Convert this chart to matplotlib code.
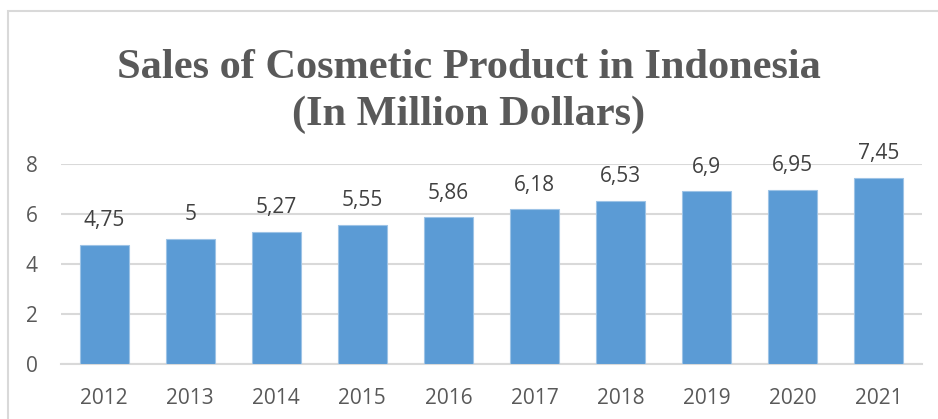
import matplotlib
matplotlib.use("Agg")
import matplotlib.pyplot as plt
from matplotlib.patches import Rectangle

years = ["2012", "2013", "2014", "2015", "2016", "2017", "2018", "2019", "2020", "2021"]
sales = [4.75, 5, 5.27, 5.55, 5.86, 6.18, 6.53, 6.9, 6.95, 7.45]
sales_labels = ["4,75", "5", "5,27", "5,55", "5,86", "6,18", "6,53", "6,9", "6,95", "7,45"]
yticks = [0, 2, 4, 6, 8]

W, H = 938, 419
fig = plt.figure(figsize=(W / 100, H / 100), dpi=100)
fig.patch.set_facecolor("white")

# outer chart border (cropped on right and bottom)
fig.add_artist(Rectangle((8 / W, -0.1), 1.2, (H - 11) / H + 0.1, transform=fig.transFigure,
                         fill=False, edgecolor="#d9d9d9", linewidth=1.5))

ax = fig.add_axes([61 / W, (H - 364) / H, (922 - 61) / W, (364 - 164) / H])
x = list(range(len(years)))
ax.bar(x, sales, width=0.57, color="#5b9bd5", edgecolor="#9dc3e6", linewidth=0.8, zorder=3)
ax.set_xlim(-0.5, len(years) - 0.5)
ax.set_ylim(0, 8)
ax.set_yticks(yticks)
ax.set_yticklabels([str(t) for t in yticks])
ax.set_xticks(x)
ax.set_xticklabels(years)
ax.grid(axis="y", color="#d9d9d9", linewidth=1.5, zorder=0)
for s in ["top", "right", "left"]:
    ax.spines[s].set_visible(False)
ax.spines["bottom"].set_color("#d9d9d9")
ax.spines["bottom"].set_linewidth(1.5)
ax.tick_params(axis="both", length=0, labelsize=15, labelcolor="#595959")
ax.tick_params(axis="x", pad=17)
ax.tick_params(axis="y", pad=17)
for lab in ax.get_xticklabels() + ax.get_yticklabels():
    lab.set_fontfamily("Open Sans")

for xi, v, t in zip(x, sales, sales_labels):
    ax.annotate(t, (xi, v), xytext=(0, 10), textcoords="offset points", ha="center", va="bottom",
                fontsize=15, color="#404040", family="Open Sans")

fig.text(0.5, (H - 78) / H, "Sales of Cosmetic Product in Indonesia", ha="center", va="baseline",
         fontsize=30.5, fontweight="bold", family="Liberation Serif", color="#595959")
fig.text(0.5, (H - 125) / H, "(In Million Dollars)", ha="center", va="baseline",
         fontsize=30.5, fontweight="bold", family="Liberation Serif", color="#595959")

fig.savefig("out.png", dpi=100)
